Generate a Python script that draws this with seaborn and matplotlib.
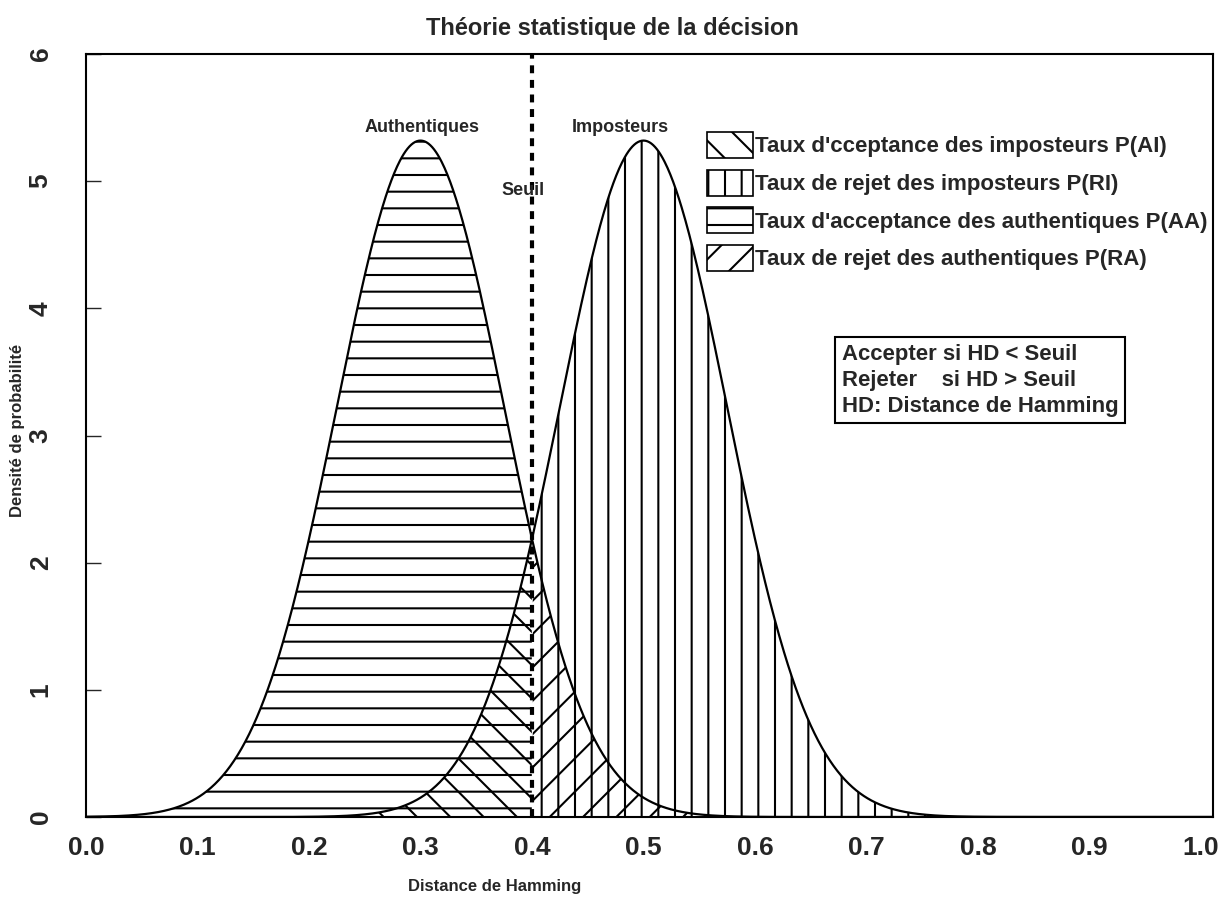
import numpy as np
import pandas as pd
import matplotlib
matplotlib.use("Agg")
import matplotlib.pyplot as plt
from matplotlib.patches import Patch
import seaborn as sns

# ---- data ----
mean_authentiques = 0.30
mean_imposteurs = 0.50
sigma = 0.075
seuil = 0.40
x_tick_values = [0.0, 0.1, 0.2, 0.3, 0.4, 0.5, 0.6, 0.7, 0.8, 0.9, 1.0]
x_tick_labels = ["0.0", "0.1", "0.2", "0.3", "0.4", "0.5", "0.6", "0.7", "0.8", "0.9", "1.0"]
y_tick_values = [0, 1, 2, 3, 4, 5, 6]
legend_labels = [
    "Taux d'cceptance des imposteurs P(AI)",
    "Taux de rejet des imposteurs P(RI)",
    "Taux d'acceptance des authentiques P(AA)",
    "Taux de rejet des authentiques P(RA)",
]
legend_hatches = ["\\", "|", "-", "/"]
info_text = "Accepter si HD < Seuil\nRejeter    si HD > Seuil\nHD: Distance de Hamming"

sns.set_style("white")
plt.rcParams["font.family"] = ["Liberation Sans", "DejaVu Sans"]
plt.rcParams["font.weight"] = "bold"
plt.rcParams["hatch.linewidth"] = 1.5
plt.rcParams["hatch.color"] = "black"

x = np.linspace(0, 1.02, 1200)
def npdf(v, m, s):
    return np.exp(-0.5 * ((v - m) / s) ** 2) / (s * np.sqrt(2 * np.pi))
ya = npdf(x, mean_authentiques, sigma)
yi = npdf(x, mean_imposteurs, sigma)
df = pd.DataFrame({
    "x": np.concatenate([x, x]),
    "y": np.concatenate([ya, yi]),
    "groupe": ["Authentiques"] * len(x) + ["Imposteurs"] * len(x),
})

fig = plt.figure(figsize=(12.2, 8.99), dpi=100, facecolor="white")
ax = fig.add_axes([86 / 1220, (899 - 817) / 899, (1213 - 86) / 1220, (817 - 54) / 899])

left = x <= seuil
right = x >= seuil
ax.fill_between(x[left], 0, ya[left], facecolor="none", edgecolor="black", hatch="-", linewidth=0)
ax.fill_between(x[right], 0, ya[right], facecolor="none", edgecolor="black", hatch="/", linewidth=0)
ax.fill_between(x[left], 0, yi[left], facecolor="none", edgecolor="black", hatch="\\", linewidth=0)
ax.fill_between(x[right], 0, yi[right], facecolor="none", edgecolor="black", hatch="|", linewidth=0)

sns.lineplot(data=df, x="x", y="y", hue="groupe", palette=["black", "black"],
             linewidth=1.6, legend=False, ax=ax, estimator=None, sort=False)

ax.axvline(seuil, color="black", linewidth=3, linestyle=(0, (1.9, 1.6)))

ax.set_xlim(0, (1213 - 86) / 1115)
ax.set_ylim(0, 6)
for sp in ax.spines.values():
    sp.set_color("black")
    sp.set_linewidth(1.5)
    sp.set_visible(True)

ax.set_xticks(x_tick_values)
ax.set_xticklabels(x_tick_labels, fontsize=19, fontweight="bold")
ax.set_yticks(y_tick_values)
ax.set_yticklabels([str(v) for v in y_tick_values], fontsize=19, fontweight="bold", rotation=90, va="center")
ax.tick_params(axis="x", length=0, pad=14)
ax.tick_params(axis="y", direction="in", length=11, width=1, pad=24, left=True)
ax.set_xlabel("")
ax.set_ylabel("")

ax.text(0.301, 5.42, "Authentiques", ha="center", va="center", fontsize=13, fontweight="bold")
ax.text(0.479, 5.42, "Imposteurs", ha="center", va="center", fontsize=13, fontweight="bold")
ax.text(0.392, 4.93, "Seuil", ha="center", va="center", fontsize=13, fontweight="bold")

fig.text(612 / 1220, 1 - 28 / 899, "Théorie statistique de la décision", ha="center", va="center",
         fontsize=17, fontweight="bold")
fig.text(495 / 1220, 1 - 887 / 899, "Distance de Hamming", ha="center", va="center",
         fontsize=12, fontweight="bold")
fig.text(18 / 1220, 1 - 430 / 899, "Densité de probabilité", ha="center", va="center",
         rotation=90, fontsize=12, fontweight="bold")

handles = [Patch(facecolor="white", edgecolor="black", hatch=h, linewidth=1.2) for h in legend_hatches]
fig.legend(handles, legend_labels, loc="upper left", bbox_to_anchor=(707 / 1220, 1 - 132 / 899),
           frameon=False, prop={"size": 16, "weight": "bold"}, handlelength=2.07, handleheight=1.44,
           handletextpad=0.1, labelspacing=0.51, borderaxespad=0, borderpad=0)

fig.text(842 / 1220, 1 - 344 / 899, info_text, ha="left", va="top", fontsize=15.9, fontweight="bold",
         linespacing=1.3,
         bbox=dict(boxstyle="square,pad=0.3", facecolor="white", edgecolor="black", linewidth=1.5))

fig.savefig("out.png", dpi=100, facecolor="white")
